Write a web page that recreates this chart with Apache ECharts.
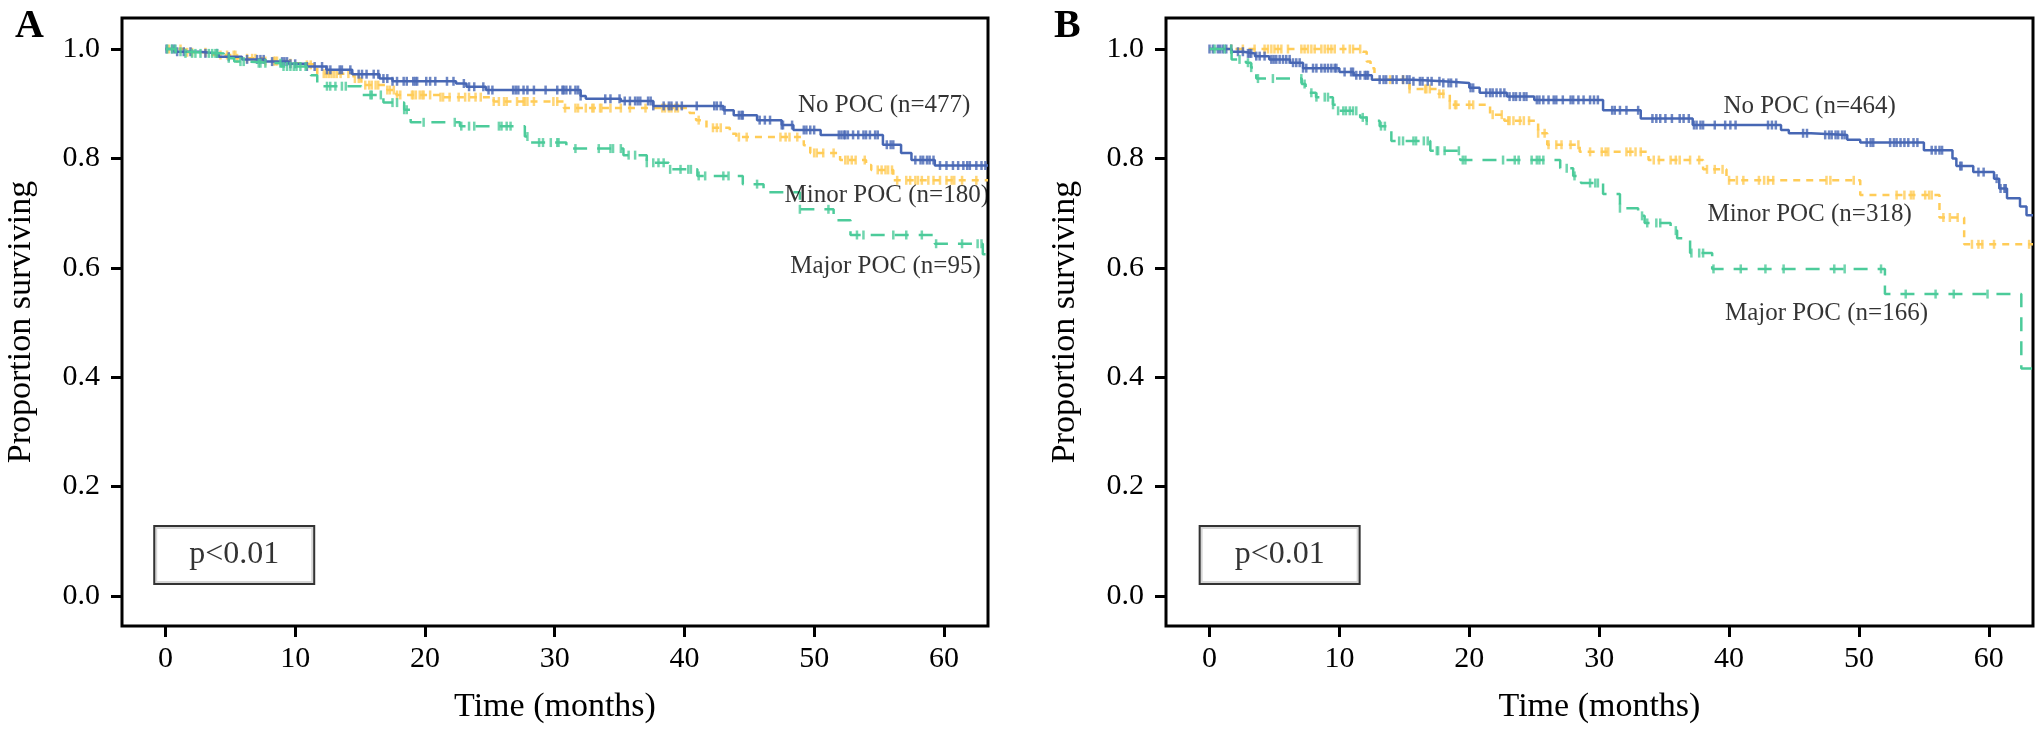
<!DOCTYPE html>
<html>
<head>
<meta charset="utf-8">
<script src="https://cdn.jsdelivr.net/npm/echarts@6/dist/echarts.min.js"></script>
<style>
  html, body { margin: 0; padding: 0; background: #ffffff; }
  #chart { width: 2041px; height: 733px; }
</style>
</head>
<body>
<div id="chart"></div>
<script>
// ---------------- DATA ----------------
const xTicks = [0, 10, 20, 30, 40, 50, 60];
const yTicks = [0.0, 0.2, 0.4, 0.6, 0.8, 1.0];
const panelLetters = ['A', 'B'];
const xAxisTitle = 'Time (months)';
const yAxisTitle = 'Proportion surviving';
const pValueText = 'p<0.01';
const groupLabelsA = ['No POC (n=477)', 'Minor POC (n=180)', 'Major POC (n=95)'];
const groupLabelsB = ['No POC (n=464)', 'Minor POC (n=318)', 'Major POC (n=166)'];

// Kaplan-Meier steps [time (months), survival] -- panel A
const noPocA = [[0,1],[0.7,0.995],[2.6,0.992],[4.1,0.986],[5.9,0.981],[7.7,0.977],[9.5,0.973],[10.8,0.968],[12.4,0.962],[14.4,0.954],[16.5,0.946],[17.5,0.941],[22.4,0.937],[23.2,0.931],[24.7,0.925],[32.0,0.914],[32.4,0.909],[35.1,0.905],[37.6,0.896],[43.0,0.888],[43.8,0.879],[45.6,0.870],[47.5,0.861],[48.4,0.852],[50.5,0.843],[55.3,0.825],[56.7,0.810],[57.5,0.797],[59.3,0.787],[63.4,0.787]];
const minorPocA = [[0,1],[1.5,0.994],[3.5,0.989],[5.5,0.983],[7.5,0.978],[9.5,0.974],[10.5,0.971],[11.7,0.955],[14.5,0.946],[15.1,0.934],[17.1,0.925],[17.8,0.916],[21.2,0.912],[25.3,0.904],[30.7,0.892],[40.4,0.883],[40.9,0.870],[41.7,0.856],[43.5,0.845],[44.0,0.839],[49.2,0.824],[49.7,0.810],[52.0,0.797],[54.0,0.788],[54.4,0.779],[56.1,0.760],[63.4,0.760]];
const majorPocA = [[0,1],[0.8,0.995],[1.5,0.992],[4.5,0.983],[5.3,0.977],[6.3,0.974],[8.9,0.968],[10.9,0.960],[11.2,0.952],[11.7,0.932],[15.1,0.916],[16.8,0.902],[18.4,0.889],[18.9,0.866],[22.7,0.859],[27.7,0.840],[28.0,0.829],[30.9,0.818],[35.3,0.806],[37.1,0.792],[38.8,0.780],[41.0,0.768],[44.5,0.753],[46.1,0.738],[48.9,0.707],[51.5,0.687],[52.8,0.660],[59.3,0.644],[63.0,0.625],[63.4,0.625]];

// censoring times -- panel A
const noPocCensA = [0.08,0.51,0.69,0.9,1.41,1.93,3.08,3.98,4.88,6.29,7.06,7.32,7.57,8.22,8.99,9.17,9.37,9.63,10.0,10.9,11.5,12.07,12.45,12.71,13.43,13.6,14.25,14.89,15.15,15.5,16.05,16.4,16.8,17.1,17.5,17.85,18.36,18.6,19.1,19.26,19.4,20.1,20.4,20.8,21.7,22.2,23.0,23.4,23.8,24.5,24.9,25.2,26.8,27.0,27.2,27.6,27.9,28.4,29.3,30.2,30.6,30.7,30.9,31.2,31.6,31.8,32.0,33.9,34.3,35.0,35.4,35.8,36.2,36.4,36.6,37.2,37.4,37.6,38.4,38.8,39.0,39.4,39.8,40.95,42.3,42.5,42.8,43.1,44.2,44.4,44.5,45.8,46.2,46.6,47.5,47.6,48.3,49.2,49.4,49.7,50.0,51.9,52.1,52.3,52.4,52.6,53.0,53.4,53.8,54.0,54.3,54.7,54.9,55.6,55.9,56.1,57.8,58.2,58.4,58.7,58.9,59.2,59.7,60.2,60.7,61.1,61.5,61.8,62.0,62.5,62.9,63.2];
const minorPocCensA = [0.26,1.16,1.67,2.05,3.08,4.24,4.75,5.26,5.39,5.52,6.29,6.68,6.93,7.7,8.35,8.47,8.6,9.63,10.9,11.2,12.2,12.4,12.6,12.8,13.0,13.2,13.5,14.1,14.6,14.9,15.4,15.7,15.9,16.2,16.4,17.1,17.3,17.6,17.85,18.1,19.0,19.1,19.3,19.6,19.8,19.9,20.4,21.2,21.4,21.9,22.6,23.1,23.4,23.9,24.3,25.3,25.7,26.1,26.3,27.1,27.6,27.7,27.9,28.4,29.9,30.2,30.8,31.6,31.8,32.4,32.9,33.0,33.5,33.6,34.3,35.1,35.8,37.0,38.3,38.5,38.8,39.0,39.3,39.5,41.1,42.2,42.5,42.8,44.2,44.8,47.4,47.8,48.1,48.7,50.0,50.2,50.7,51.5,52.4,52.6,52.9,53.2,53.9,54.9,55.2,55.5,55.7,56.0,56.4,57.1,57.4,57.8,58.0,58.3,58.8,59.2,59.7,60.2,60.6,60.8,61.4,62.5];
const majorPocCensA = [0.13,0.51,0.77,1.16,1.54,2.05,2.31,2.7,3.34,3.6,3.85,3.98,4.88,5.78,6.03,7.19,7.32,7.7,8.86,9.1,9.37,9.63,9.89,10.1,10.4,10.8,12.45,12.7,13.1,13.6,13.9,15.8,15.9,16.6,17.5,17.85,18.4,18.6,19.9,22.3,22.8,23.4,23.8,25.7,25.9,26.3,26.6,27.9,28.8,29.1,29.7,30.2,30.3,31.6,33.4,34.3,34.5,35.1,35.7,36.2,37.1,37.6,38.0,38.4,38.9,39.7,40.3,40.5,41.1,41.6,43.0,43.4,45.6,48.9,51.1,53.3,53.8,56.1,57.1,58.3,59.4,61.4,62.6,62.9];

// Kaplan-Meier steps -- panel B
const noPocB = [[0,1],[1.7,0.995],[2.6,0.992],[3.5,0.987],[4.6,0.981],[6.2,0.975],[7.2,0.965],[10.0,0.958],[11.1,0.952],[12.5,0.944],[15.7,0.941],[18.0,0.938],[20.0,0.929],[20.8,0.920],[22.9,0.913],[25.0,0.907],[30.3,0.888],[33.2,0.873],[37.2,0.861],[44.0,0.852],[44.6,0.846],[46.3,0.843],[49.1,0.834],[50.1,0.829],[55.0,0.815],[57.2,0.800],[57.5,0.786],[58.8,0.775],[60.4,0.763],[60.8,0.745],[61.4,0.727],[62.4,0.712],[62.9,0.696],[63.4,0.696]];
const minorPocB = [[0,1],[11.8,0.995],[12.1,0.977],[12.4,0.965],[12.7,0.944],[15.4,0.927],[17.6,0.918],[18.5,0.898],[21.6,0.880],[22.7,0.869],[25.3,0.846],[26.0,0.825],[28.5,0.812],[33.8,0.797],[38.0,0.780],[39.8,0.760],[50.1,0.733],[56.2,0.692],[58.1,0.643],[63.4,0.643]];
const majorPocB = [[0,1],[1.7,0.981],[2.8,0.975],[3.2,0.966],[3.6,0.946],[7.1,0.936],[7.4,0.930],[7.7,0.920],[8.2,0.912],[9.5,0.898],[9.9,0.887],[11.6,0.875],[12.1,0.869],[13.1,0.859],[14.0,0.832],[17.0,0.814],[19.3,0.797],[27.0,0.782],[28.0,0.768],[28.6,0.755],[30.3,0.735],[31.6,0.709],[33.0,0.695],[33.5,0.682],[35.5,0.668],[36.0,0.654],[37.0,0.627],[38.7,0.598],[52.0,0.552],[62.5,0.416],[63.4,0.416]];

// censoring times -- panel B
const noPocCensB = [0.0,0.26,0.64,0.82,1.03,1.29,1.67,2.19,2.57,2.96,3.08,3.21,3.6,3.86,4.24,4.76,4.94,5.14,5.4,5.66,5.91,6.17,6.43,6.68,6.94,7.2,7.45,7.97,8.23,8.61,8.87,9.12,9.38,9.64,9.77,10.4,10.9,11.05,11.3,11.6,11.95,12.08,12.2,13.1,13.4,13.6,14.1,14.4,14.9,15.2,15.4,15.7,16.2,16.4,16.8,17.1,17.7,18.0,18.4,18.6,19.0,20.1,20.3,21.3,21.6,21.8,22.1,22.4,22.7,23.1,23.4,23.6,23.9,24.2,24.4,25.2,25.4,25.7,26.1,26.5,26.7,27.2,27.8,28.0,28.4,28.8,29.3,29.6,29.9,31.0,31.2,31.6,32.1,33.0,34.1,34.4,34.7,35.1,35.6,36.2,36.5,36.9,37.3,37.5,37.8,38.0,38.9,39.7,40.1,40.5,43.0,43.3,43.6,45.7,46.0,47.4,47.7,47.9,48.2,48.4,48.7,48.9,50.6,50.9,51.1,52.4,52.7,52.9,53.2,53.5,53.8,54.2,54.5,55.6,55.9,56.2,56.4,57.8,57.9,59.2,59.6,60.6,60.9,61.2,61.3];
const minorPocCensB = [1.67,2.57,3.47,4.24,4.5,4.76,5.0,5.27,5.53,6.04,7.07,7.32,7.58,7.84,8.1,8.61,8.87,9.12,9.38,9.64,10.3,10.8,11.05,11.6,13.9,14.9,15.4,16.6,16.7,16.96,17.7,18.0,18.5,18.9,19.0,20.0,20.3,21.8,22.5,23.0,23.1,23.4,23.9,24.2,24.6,25.3,25.8,26.1,26.7,27.1,27.8,28.4,29.3,30.2,30.5,30.7,32.1,32.4,32.8,33.2,34.2,34.6,35.5,35.9,36.2,37.0,37.7,38.3,38.9,39.5,40.0,40.6,41.1,42.3,42.7,43.0,43.4,47.5,47.8,49.6,52.9,53.5,54.0,54.2,55.1,55.4,55.6,56.5,57.0,57.6,58.7,59.2,59.5,60.4,63.1];
const majorPocCensB = [0.39,1.16,1.67,2.31,2.96,3.21,3.73,4.88,7.07,7.32,7.84,8.23,8.87,9.12,9.51,9.9,10.3,10.5,10.8,11.05,11.3,11.8,12.1,13.2,13.5,14.6,14.9,15.7,15.9,16.5,16.8,17.5,17.6,18.1,19.2,19.5,19.7,22.6,23.5,23.8,24.8,25.2,25.4,25.7,27.5,28.1,29.3,29.7,29.9,31.6,33.3,33.7,34.4,34.7,35.9,37.1,37.7,38.0,38.8,40.9,42.8,44.2,48.1,48.9,51.7,53.6,55.9,57.3,59.9];

// ---------------- LAYOUT / STYLE ----------------
const FONT = 'Liberation Serif';
const COLORS = { no: '#4767b4', minor: '#ffcc57', major: '#4ccb9a' };
const X_MIN = -3.35, X_MAX = 63.4, Y_MIN = -0.0548, Y_MAX = 1.0567;
const grids = [
  { left: 122, top: 18, width: 866, height: 608 },
  { left: 1166, top: 18, width: 867, height: 608 }
];
const labelPos = [
  [[55.4, 0.896], [55.6, 0.732], [55.5, 0.603]],
  [[46.2, 0.895], [46.2, 0.698], [47.5, 0.516]]
];
const pBoxPos = [[5.3, 0.075], [5.4, 0.075]];

function survAt(curve, t) {
  let s = curve[0][1];
  for (const [ti, si] of curve) { if (ti <= t) s = si; else break; }
  return s;
}

const panels = [
  { curves: [noPocA, minorPocA, majorPocA], cens: [noPocCensA, minorPocCensA, majorPocCensA], labels: groupLabelsA },
  { curves: [noPocB, minorPocB, majorPocB], cens: [noPocCensB, minorPocCensB, majorPocCensB], labels: groupLabelsB }
];
const groupStyle = [
  { color: COLORS.no, type: 'solid', z: 3 },
  { color: COLORS.minor, type: [7, 6], z: 2 },
  { color: COLORS.major, type: [14, 10], z: 4 }
];

const xAxes = [], yAxes = [], series = [];
panels.forEach((p, i) => {
  xAxes.push({
    gridIndex: i, type: 'value', min: X_MIN, max: X_MAX, position: 'bottom',
    name: xAxisTitle, nameLocation: 'middle', nameGap: 64,
    nameTextStyle: { fontFamily: FONT, fontSize: 34, color: '#000' },
    axisLine: { show: false, onZero: false },
    splitLine: { show: false },
    axisTick: { show: true, inside: false, length: 11, customValues: xTicks, lineStyle: { color: '#000', width: 3 } },
    axisLabel: { show: true, margin: 18, customValues: xTicks, fontFamily: FONT, fontSize: 30, color: '#000' }
  });
  yAxes.push({
    gridIndex: i, type: 'value', min: Y_MIN, max: Y_MAX, position: 'left',
    name: yAxisTitle, nameLocation: 'middle', nameGap: 84,
    nameTextStyle: { fontFamily: FONT, fontSize: 34, color: '#000' },
    axisLine: { show: false, onZero: false },
    splitLine: { show: false },
    axisTick: { show: true, inside: false, length: 11, customValues: yTicks, lineStyle: { color: '#000', width: 3 } },
    axisLabel: { show: true, margin: 22, customValues: yTicks, fontFamily: FONT, fontSize: 30, color: '#000',
                 formatter: v => Number(v).toFixed(1) }
  });
  p.curves.forEach((c, g) => {
    const st = groupStyle[g];
    series.push({
      type: 'line', xAxisIndex: i, yAxisIndex: i, step: 'end', showSymbol: false, symbol: 'none',
      data: c, z: st.z, silent: true, animation: false,
      lineStyle: { color: st.color, width: 2.5, type: st.type }
    });
    series.push({
      type: 'scatter', xAxisIndex: i, yAxisIndex: i, symbol: 'rect', symbolSize: [2.5, 9],
      data: p.cens[g].map(t => [t, survAt(c, t)]), z: st.z, silent: true, animation: false,
      itemStyle: { color: st.color }
    });
  });
  // group labels
  series.push({
    type: 'scatter', xAxisIndex: i, yAxisIndex: i, symbolSize: 0, silent: true, animation: false, z: 10,
    data: p.labels.map((txt, g) => ({ value: labelPos[i][g], name: txt })),
    label: { show: true, position: 'inside', formatter: '{b}', fontFamily: FONT, fontSize: 25, color: '#000' }
  });
  // p-value box
  series.push({
    type: 'scatter', xAxisIndex: i, yAxisIndex: i, symbolSize: 0, silent: true, animation: false, z: 10,
    data: [{ value: pBoxPos[i], name: pValueText }],
    label: { show: true, position: 'inside', formatter: '{b}', fontFamily: FONT, fontSize: 32, color: '#000',
             width: 158, height: 56, lineHeight: 56, align: 'center', verticalAlign: 'middle',
             borderColor: '#000', borderWidth: 2, padding: 0, backgroundColor: '#fff' }
  });
});

const chart = echarts.init(document.getElementById('chart'), null, { renderer: 'canvas' });
chart.setOption({
  animation: false,
  backgroundColor: '#ffffff',
  title: [
    { text: panelLetters[0], left: 15, top: 7, padding: 0, textStyle: { fontFamily: FONT, fontWeight: 'bold', fontSize: 40, color: '#000' } },
    { text: panelLetters[1], left: 1054, top: 7, padding: 0, textStyle: { fontFamily: FONT, fontWeight: 'bold', fontSize: 40, color: '#000' } }
  ],
  grid: grids.map(g => Object.assign({ show: true, borderColor: '#000', borderWidth: 3, backgroundColor: 'transparent', containLabel: false }, g)),
  xAxis: xAxes,
  yAxis: yAxes,
  series: series
});
</script>
</body>
</html>
